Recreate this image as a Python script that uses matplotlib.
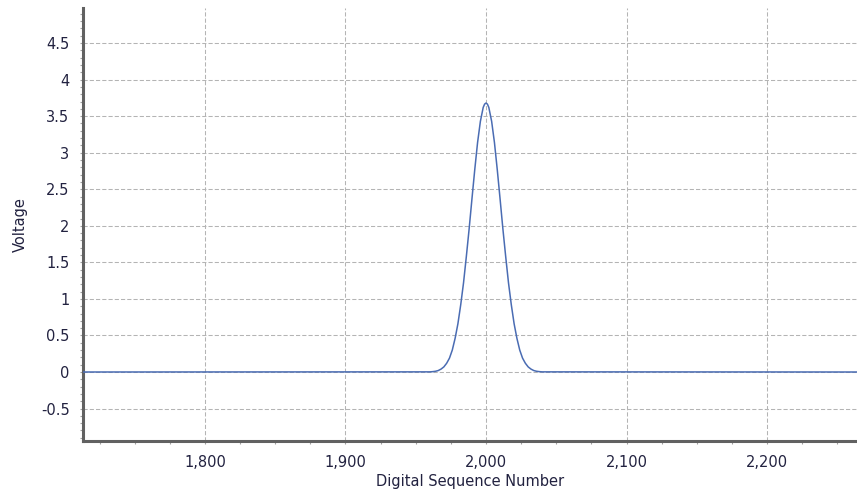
import matplotlib
matplotlib.use('agg')
import matplotlib.pyplot as plt
from matplotlib.ticker import MultipleLocator, FuncFormatter

# peak samples (sequence number -> voltage)
peak_seq = [1960, 1962, 1964, 1966, 1968, 1970, 1972, 1974, 1976, 1978,
            1980, 1982, 1984, 1986, 1988, 1990, 1992, 1994, 1996, 1998, 1999,
            2000,
            2001, 2002, 2004, 2006, 2008, 2010, 2012, 2014, 2016, 2018, 2020,
            2022, 2024, 2026, 2028, 2030, 2032, 2034, 2036, 2038, 2040]
peak_volts = [0.002, 0.005, 0.01, 0.02, 0.04, 0.07, 0.12, 0.19, 0.3, 0.46,
              0.66, 0.92, 1.22, 1.58, 1.96, 2.37, 2.77, 3.14, 3.43, 3.62, 3.665,
              3.68,
              3.665, 3.62, 3.43, 3.14, 2.77, 2.37, 1.96, 1.58, 1.22, 0.92, 0.66,
              0.46, 0.3, 0.19, 0.12, 0.07, 0.04, 0.02, 0.01, 0.005, 0.002]
seq = [1700] + peak_seq + [2270]
volts = [0.0] + peak_volts + [0.0]

x_range = (1713, 2264)
y_range = (-0.94, 4.98)

text_col = '#222240'
grid_col = '#b4b4b4'
axis_col = '#616161'

fig = plt.figure(figsize=(8.57, 4.91), dpi=100)
ax = fig.add_axes([0.0965, 0.1024, 0.9035, 0.8813])

ax.plot(seq, volts, color='#4a6cb3', lw=1.1, zorder=3)

ax.set_xlim(*x_range)
ax.set_ylim(*y_range)

ax.xaxis.set_major_locator(MultipleLocator(100))
ax.xaxis.set_minor_locator(MultipleLocator(25))
ax.yaxis.set_major_locator(MultipleLocator(0.5))
ax.yaxis.set_minor_locator(MultipleLocator(0.1))
ax.xaxis.set_major_formatter(FuncFormatter(lambda v, p: f'{v:,.0f}'))
ax.yaxis.set_major_formatter(FuncFormatter(lambda v, p: f'{v:g}'))

ax.grid(True, which='major', color=grid_col, ls=(0, (4, 2)), lw=0.75)
ax.set_axisbelow(True)

for s in ['top', 'right']:
    ax.spines[s].set_visible(False)
for s in ['left', 'bottom']:
    ax.spines[s].set_color(axis_col)
    ax.spines[s].set_linewidth(2.2)

ax.tick_params(which='both', direction='out', color='#a0a0a0', width=0.8,
               length=2.5, labelcolor=text_col, labelsize=10.5)
ax.tick_params(axis='y', which='both', pad=7)
ax.tick_params(axis='x', which='both', pad=8)

ax.set_xlabel('Digital Sequence Number', fontsize=10.5, color=text_col, labelpad=3)
ax.set_ylabel('Voltage', fontsize=10.5, color=text_col, labelpad=9)

fig.savefig('out.png', dpi=100)
